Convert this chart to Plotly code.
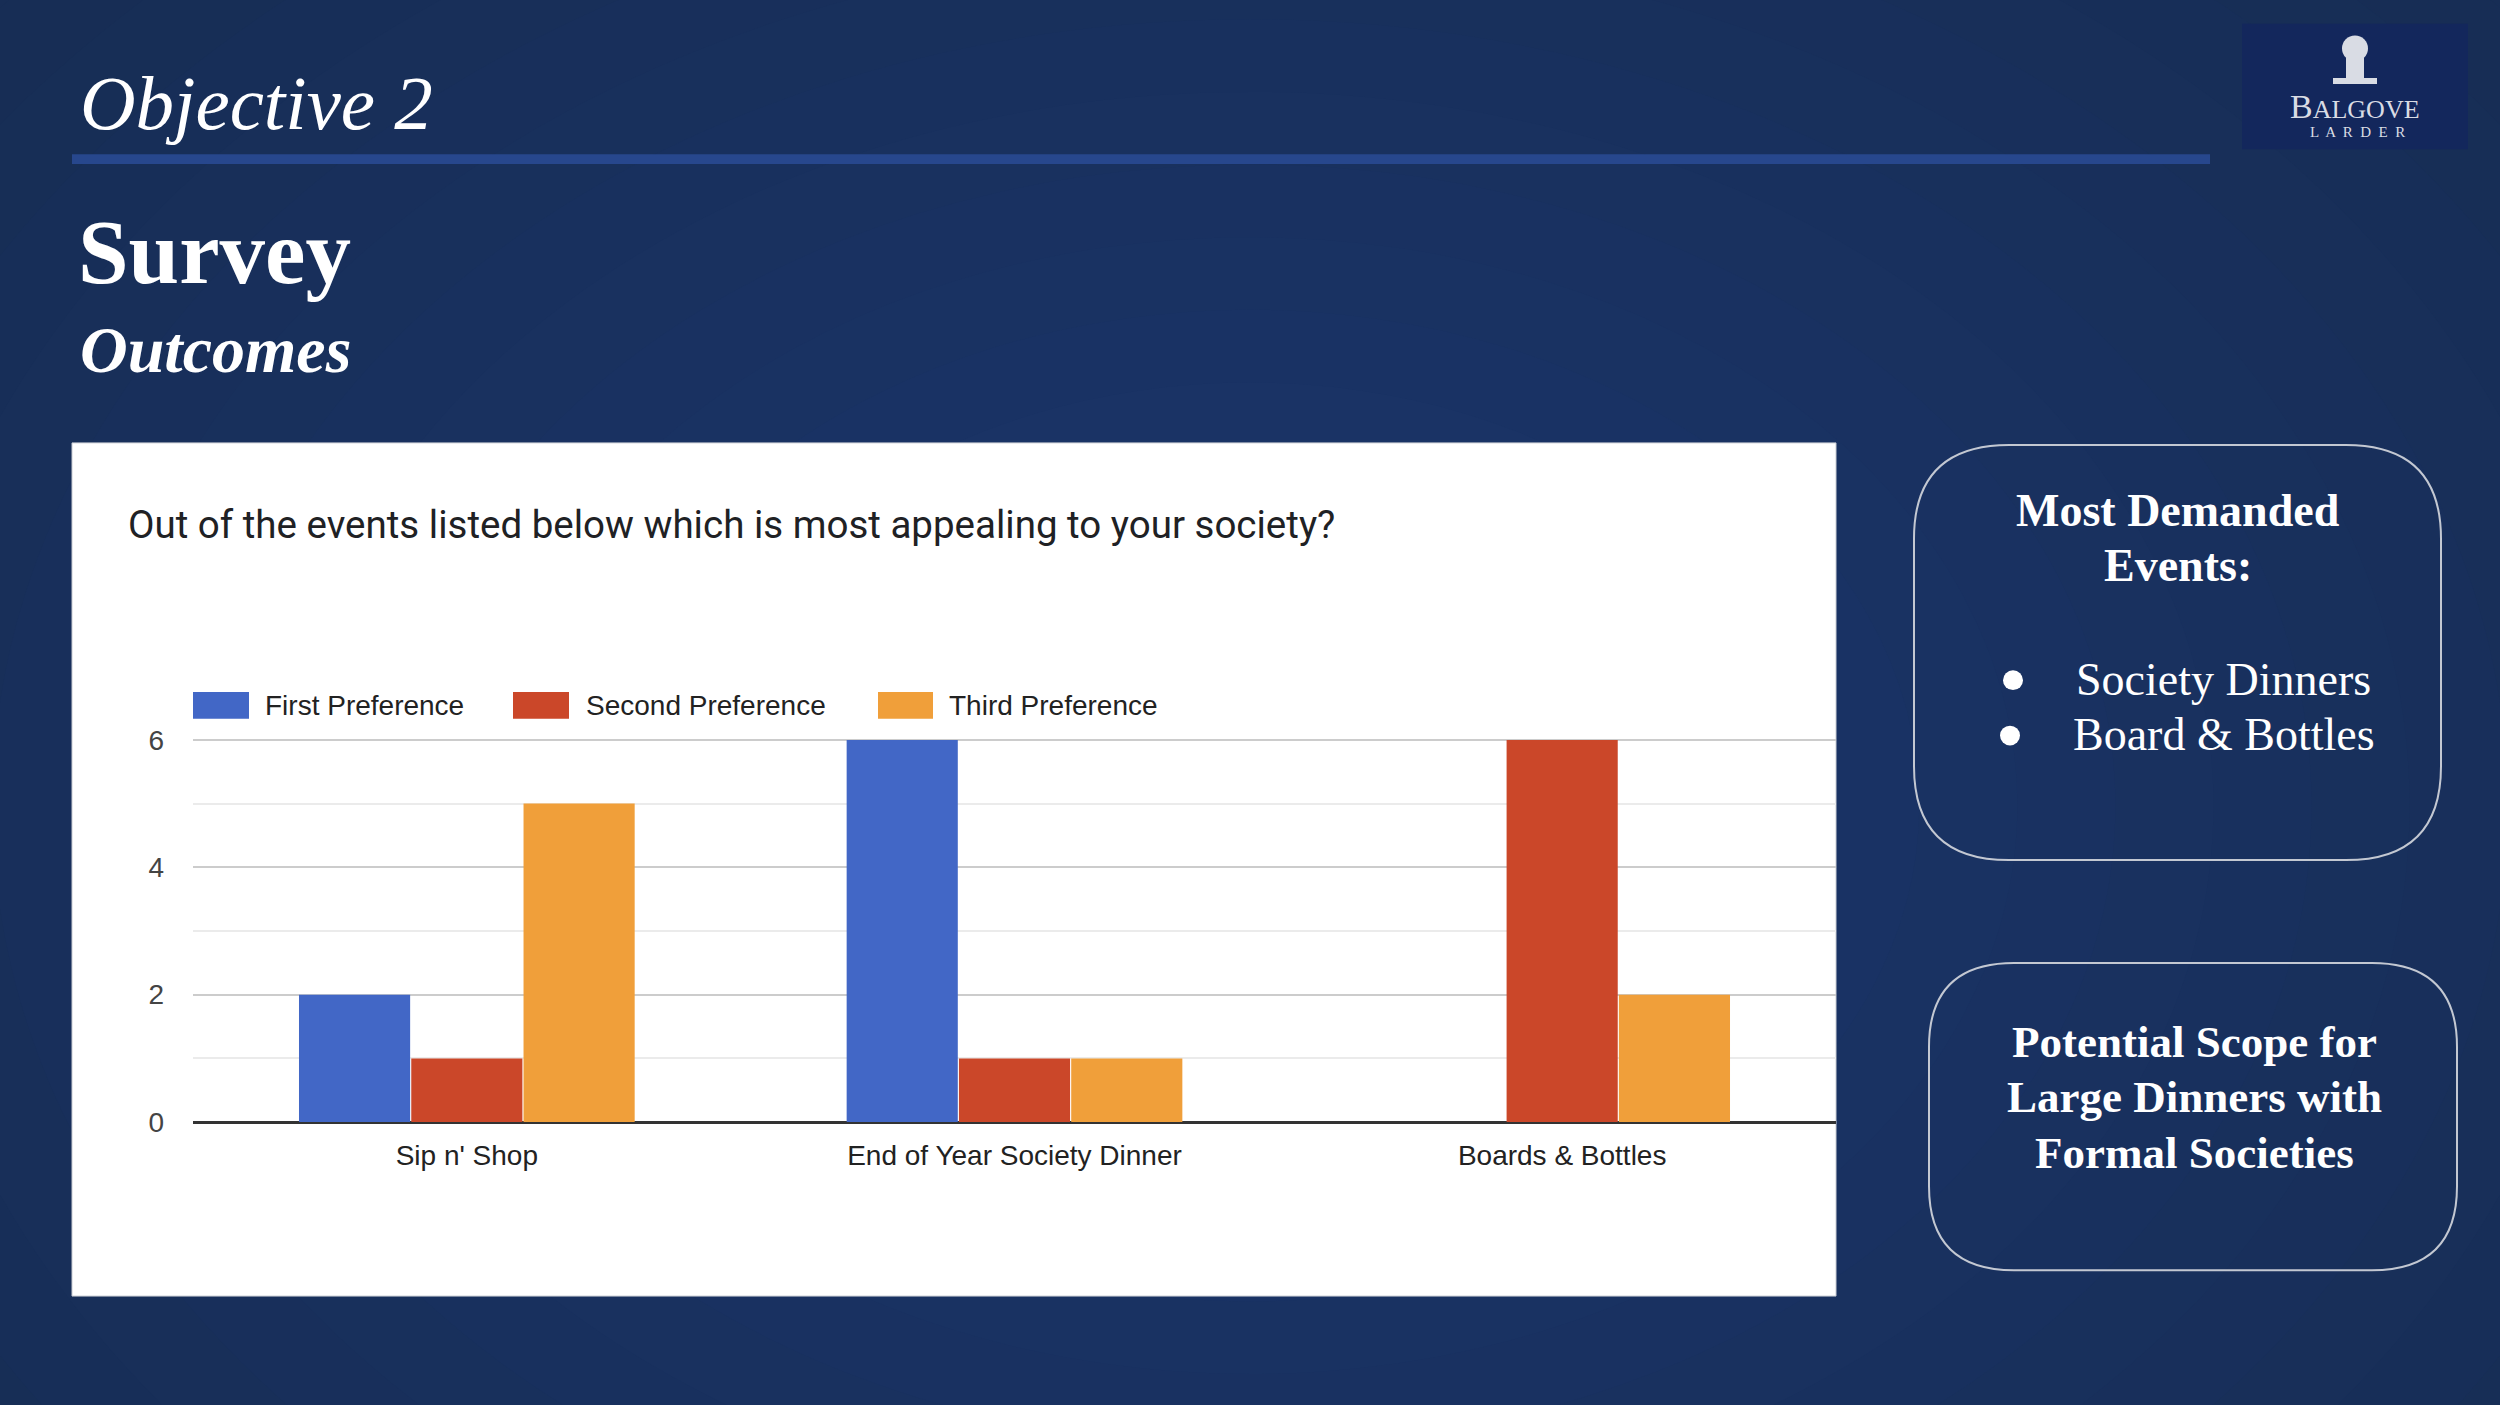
import plotly.graph_objects as go

# survey data
eventos = ["Sip n' Shop", "End of Year Society Dinner", "Boards & Bottles"]
series_nomes = ["First Preference", "Second Preference", "Third Preference"]
primeira = [2, 6, 0]
segunda = [1, 1, 6]
terceira = [5, 1, 2]
y_ticks = [0, 2, 4, 6]

cores = ['#4267c6', '#cb4729', '#f09f3a']
W, H = 2500, 1405
serif = "Liberation Serif, Times New Roman, serif"
sans = "Liberation Sans, Arial, sans-serif"


def px(x, y):
    # pixel -> paper
    return x / W, 1 - y / H


def rounded_rect(x0, y0, x1, y1, r):
    rx, ry = r / W, r / H
    a0, b1 = px(x0, y0)
    a1, b0 = px(x1, y1)
    return (f"M{a0+rx},{b1} L{a1-rx},{b1} Q{a1},{b1} {a1},{b1-ry} "
            f"L{a1},{b0+ry} Q{a1},{b0} {a1-rx},{b0} L{a0+rx},{b0} "
            f"Q{a0},{b0} {a0},{b0+ry} L{a0},{b1-ry} Q{a0},{b1} {a0+rx},{b1} Z")


fig = go.Figure()
for nome, vals, cor in zip(series_nomes, [primeira, segunda, terceira], cores):
    fig.add_trace(go.Bar(x=eventos, y=vals, name=nome, marker_color=cor,
                         marker_line_width=0, showlegend=False))

shapes = []
# fundo com leve gradiente (muitos passos pequenos pra nao aparecer faixa)
c_out = (0x17, 0x2d, 0x55)
c_in = (0x1a, 0x34, 0x68)
n = 14
for i in range(n):
    t = i / (n - 1)
    frac = 1.1 - 0.85 * t
    cor = '#%02x%02x%02x' % tuple(int(round(o + (c - o) * t)) for o, c in zip(c_out, c_in))
    shapes.append(dict(type='circle', xref='paper', yref='paper', layer='below',
                       x0=0.5 - 0.6 * frac, x1=0.5 + 0.6 * frac,
                       y0=0.42 - 0.8 * frac, y1=0.42 + 0.8 * frac,
                       fillcolor=cor, line_width=0))

# linha azul
x0, y0 = px(72, 156)
x1, y1 = px(2210, 166)
shapes.append(dict(type='rect', xref='paper', yref='paper', layer='below',
                   x0=x0, x1=x1, y0=y1, y1=y0, fillcolor='#27478d', line_width=0))

# painel branco do grafico
x0, y0 = px(72, 448)
x1, y1 = px(1836, 1311)
shapes.append(dict(type='rect', xref='paper', yref='paper', layer='below',
                   x0=x0, x1=x1, y0=y1, y1=y0, fillcolor='white',
                   line=dict(color='#c9ccd3', width=1)))

# logo
x0, y0 = px(2242, 24)
x1, y1 = px(2468, 151)
shapes.append(dict(type='rect', xref='paper', yref='paper', layer='below',
                   x0=x0, x1=x1, y0=y1, y1=y0, fillcolor='#13275c', line_width=0))
cx = 2355
a, b = px(cx - 13, 36)
c, d = px(cx + 13, 62)
shapes.append(dict(type='circle', xref='paper', yref='paper', x0=a, x1=c, y0=d, y1=b,
                   fillcolor='#d9dce4', line_width=0))
a, b = px(cx - 9, 58)
c, d = px(cx + 9, 80)
shapes.append(dict(type='rect', xref='paper', yref='paper', x0=a, x1=c, y0=d, y1=b,
                   fillcolor='#d9dce4', line_width=0))
a, b = px(cx - 22, 79)
c, d = px(cx + 22, 85)
shapes.append(dict(type='rect', xref='paper', yref='paper', x0=a, x1=c, y0=d, y1=b,
                   fillcolor='#d9dce4', line_width=0))

# caixas da direita
shapes.append(dict(type='path', xref='paper', yref='paper', layer='below',
                   path=rounded_rect(1914, 450, 2441, 870, 95),
                   line=dict(color='#c3c8d2', width=2), fillcolor='rgba(0,0,0,0)'))
shapes.append(dict(type='path', xref='paper', yref='paper', layer='below',
                   path=rounded_rect(1929, 974, 2457, 1285, 85),
                   line=dict(color='#c3c8d2', width=2), fillcolor='rgba(0,0,0,0)'))

# bullets
for bx, by in [(2013, 688), (2010, 744)]:
    a, b = px(bx - 10, by - 10)
    c, d = px(bx + 10, by + 10)
    shapes.append(dict(type='circle', xref='paper', yref='paper', x0=a, x1=c, y0=d, y1=b,
                       fillcolor='white', line_width=0))

# legenda manual
leg_rects = [(193, 249), (513, 569), (878, 933)]
leg_text_x = [263, 584, 947]
annotations = []
for (lx0, lx1), tx, cor, nome in zip(leg_rects, leg_text_x, cores, series_nomes):
    a, b = px(lx0, 700)
    c, d = px(lx1, 727)
    shapes.append(dict(type='rect', xref='paper', yref='paper', x0=a, x1=c, y0=d, y1=b,
                       fillcolor=cor, line_width=0))
    tx_, ty_ = px(tx, 714)
    annotations.append(dict(x=tx_, y=ty_, xref='paper', yref='paper', text=nome,
                            showarrow=False, xanchor='left', yanchor='middle',
                            font=dict(family=sans, size=28, color='#222222')))


def txt(x, y, s, size, family=serif, color='white', xanchor='left'):
    a, b = px(x, y)
    annotations.append(dict(x=a, y=b, xref='paper', yref='paper', text=s, showarrow=False,
                            xanchor=xanchor, yanchor='middle',
                            font=dict(family=family, size=size, color=color)))


txt(78, 104, "<i>Objective 2</i>", 77)
txt(76, 255, "<b>Survey</b>", 91)
txt(78, 354, "<b><i>Outcomes</i></b>", 66)
txt(126, 531, "Out of the events listed below which is most appealing to your society?",
    38.5, family="Roboto, Liberation Sans, sans-serif", color='#202124')

txt(2355, 108, "B<span style='font-size:26px'>ALGOVE</span>", 34, color='#d9dce4', xanchor='center')
txt(2357, 134, "L  A  R  D  E  R", 15, color='#d9dce4', xanchor='center')

txt(2178, 516, "<b>Most Demanded</b>", 46, xanchor='center')
txt(2178, 572, "<b>Events:</b>", 46, xanchor='center')
txt(2074, 687, "Society Dinners", 46)
txt(2071, 743, "Board & Bottles", 46)
txt(2194, 1054, "<b>Potential Scope for</b>", 45, xanchor='center')
txt(2194, 1110, "<b>Large Dinners with</b>", 45, xanchor='center')
txt(2194, 1166, "<b>Formal Societies</b>", 45, xanchor='center')

fig.update_layout(
    width=W, height=H,
    margin=dict(l=0, r=0, t=0, b=0),
    paper_bgcolor='#172d55',
    plot_bgcolor='rgba(0,0,0,0)',
    barmode='group', bargap=0.385, bargroupgap=0.01,
    shapes=shapes, annotations=annotations,
    xaxis=dict(domain=[193 / W, 1836 / W], showgrid=False, showline=False,
               ticks='', tickfont=dict(family=sans, size=28, color='#222222'),
               ticklabelstandoff=14),
    yaxis=dict(domain=[1 - 1135 / H, 1 - 684 / H], range=[0, 7], tickvals=y_ticks,
               showgrid=True, gridcolor='#cccccc', gridwidth=2,
               minor=dict(dtick=1, showgrid=True, gridcolor='#ebebeb', gridwidth=2),
               zeroline=True, zerolinecolor='#333333', zerolinewidth=3,
               ticks='', ticklabelstandoff=28,
               tickfont=dict(family=sans, size=28, color='#444444')),
)

# tira a margem padrao do body pra figura encostar no canto
fig.write_html("out.html", config={'displayModeBar': False},
               post_script="document.body.style.margin='0';"
                           "document.documentElement.style.overflow='hidden';")
